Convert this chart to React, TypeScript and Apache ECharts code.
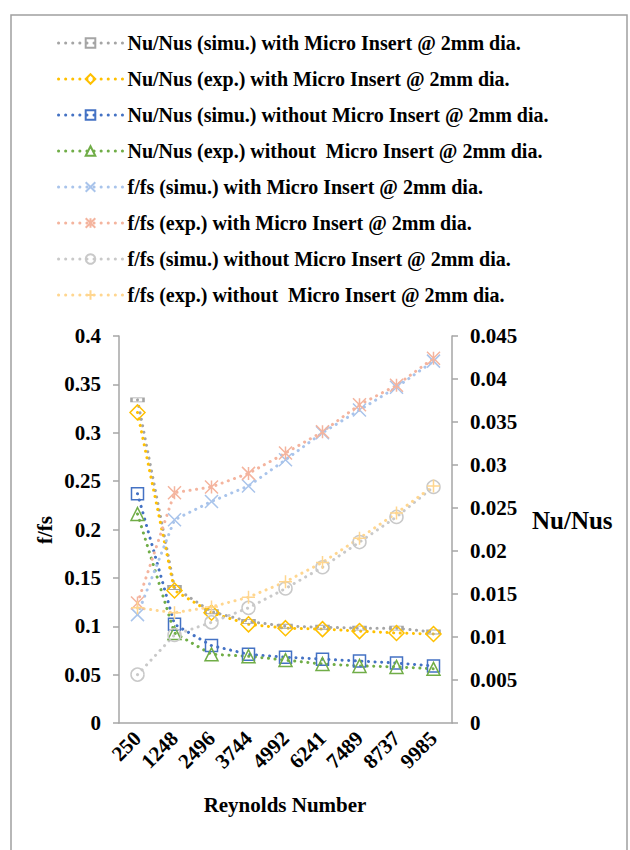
import React, { useEffect, useRef } from "react";
import * as echarts from "echarts";

const categories = ["250", "1248", "2496", "3744", "4992", "6241", "7489", "8737", "9985"];

const nuSimuWith = [0.334, 0.14, 0.115, 0.105, 0.1, 0.099, 0.098, 0.098, 0.094];
const nuExpWith = [0.321, 0.137, 0.114, 0.102, 0.098, 0.097, 0.095, 0.093, 0.092];
const nuSimuWithout = [0.237, 0.102, 0.08, 0.071, 0.068, 0.066, 0.064, 0.062, 0.059];
const nuExpWithout = [0.216, 0.093, 0.071, 0.069, 0.065, 0.061, 0.059, 0.058, 0.056];
const fSimuWith = [0.112, 0.21, 0.229, 0.245, 0.272, 0.3, 0.3235, 0.347, 0.374];
const fExpWith = [0.124, 0.238, 0.244, 0.258, 0.279, 0.301, 0.329, 0.349, 0.377];
const fSimuWithout = [0.05, 0.091, 0.104, 0.119, 0.139, 0.161, 0.187, 0.213, 0.244];
const fExpWithout = [0.119, 0.114, 0.12, 0.13, 0.146, 0.166, 0.191, 0.217, 0.245];

const leftTicks = { min: 0, max: 0.4, interval: 0.05 };
const rightTicks = { min: 0, max: 0.045, interval: 0.005 };

const FONT = "Liberation Serif";

const seriesDefs = [
  { name: "Nu/Nus (simu.) with Micro Insert @ 2mm dia.", data: nuSimuWith, color: "#A5A5A5", symbol: "rect", size: [12, 4] },
  { name: "Nu/Nus (exp.) with Micro Insert @ 2mm dia.", data: nuExpWith, color: "#FFC000", symbol: "diamond", size: 15 },
  { name: "Nu/Nus (simu.) without Micro Insert @ 2mm dia.", data: nuSimuWithout, color: "#4472C4", symbol: "rect", size: 12 },
  { name: "Nu/Nus (exp.) without  Micro Insert @ 2mm dia.", data: nuExpWithout, color: "#70AD47", symbol: "triangle", size: 13 },
  { name: "f/fs (simu.) with Micro Insert @ 2mm dia.", data: fSimuWith, color: "#A9C4EB", symbol: "path://M0 0L10 10M10 0L0 10", size: 13 },
  { name: "f/fs (exp.) with Micro Insert @ 2mm dia.", data: fExpWith, color: "#F4B49E", symbol: "path://M0 0L10 10M10 0L0 10M5 0L5 10", size: 13 },
  { name: "f/fs (simu.) without Micro Insert @ 2mm dia.", data: fSimuWithout, color: "#C9C9C9", symbol: "circle", size: 13 },
  { name: "f/fs (exp.) without  Micro Insert @ 2mm dia.", data: fExpWithout, color: "#FFD68F", symbol: "path://M5 0L5 10M0 5L10 5", size: 13 },
];

export default function App() {
  const ref = useRef<HTMLDivElement>(null);
  useEffect(() => {
    if (!ref.current) return;
    const chart = echarts.init(ref.current, undefined, { renderer: "svg" });
    const axisLabel = { color: "#000", fontFamily: FONT, fontWeight: "bold", fontSize: 21 };
    chart.setOption({
      animation: false,
      backgroundColor: "#fff",
      textStyle: { fontFamily: FONT },
      legend: {
        orient: "vertical",
        left: 52,
        top: 27,
        itemWidth: 64,
        itemHeight: 12,
        itemGap: 14,
        textStyle: { color: "#000", fontFamily: FONT, fontWeight: "bold", fontSize: 20, lineHeight: 22 },
        lineStyle: { width: 3, type: [0.1, 7], cap: "round" },
        data: seriesDefs.map((s) => s.name),
      },
      grid: { left: 119, right: 178, top: 336, bottom: 127 },
      xAxis: {
        type: "category",
        data: categories,
        boundaryGap: true,
        axisLine: { show: true, lineStyle: { color: "#A6A6A6", width: 1.5 } },
        axisTick: { show: false },
        axisLabel: { ...axisLabel, rotate: 45, margin: 12, interval: 0 },
        splitLine: { show: false },
      },
      yAxis: [
        {
          type: "value",
          position: "left",
          ...leftTicks,
          axisLine: { show: true, lineStyle: { color: "#A6A6A6", width: 1.5 } },
          axisTick: { show: true, length: 6, lineStyle: { color: "#A6A6A6", width: 1.5 } },
          axisLabel: { ...axisLabel, margin: 18 },
          splitLine: { show: false },
        },
        {
          type: "value",
          position: "right",
          ...rightTicks,
          axisLine: { show: true, lineStyle: { color: "#A6A6A6", width: 1.5 } },
          axisTick: { show: true, length: 6, lineStyle: { color: "#A6A6A6", width: 1.5 } },
          axisLabel: { ...axisLabel, margin: 18, formatter: (v: number) => String(Number(v.toFixed(3))) },
          splitLine: { show: false },
        },
      ],
      graphic: [
        {
          type: "rect",
          shape: { x: 11, y: 15, width: 616, height: 860 },
          style: { fill: "none", stroke: "#A0A0A0", lineWidth: 1.5 },
          silent: true,
        },
        {
          type: "text",
          x: 45,
          y: 530,
          rotation: Math.PI / 2,
          style: { text: "f/fs", fill: "#000", fontFamily: FONT, fontWeight: "bold", fontSize: 21, align: "center", verticalAlign: "middle" },
        },
        {
          type: "text",
          x: 532,
          y: 520,
          style: { text: "Nu/Nus", fill: "#000", fontFamily: FONT, fontWeight: "bold", fontSize: 25, align: "left", verticalAlign: "middle" },
        },
        {
          type: "text",
          x: 285,
          y: 805,
          style: { text: "Reynolds Number", fill: "#000", fontFamily: FONT, fontWeight: "bold", fontSize: 21, align: "center", verticalAlign: "middle" },
        },
      ],
      series: seriesDefs.map((s) => ({
        name: s.name,
        type: "line",
        yAxisIndex: 0,
        data: s.data,
        symbol: s.symbol,
        symbolSize: s.size,
        showSymbol: true,
        lineStyle: { color: s.color, width: 3, type: [0.1, 6.5], cap: "round" },
        itemStyle: { color: "transparent", borderColor: s.color, borderWidth: 1.5 },
        emphasis: { disabled: true },
      })),
    });
    return () => chart.dispose();
  }, []);
  return <div ref={ref} style={{ position: "fixed", left: 0, top: 0, width: 630, height: 850 }} />;
}
